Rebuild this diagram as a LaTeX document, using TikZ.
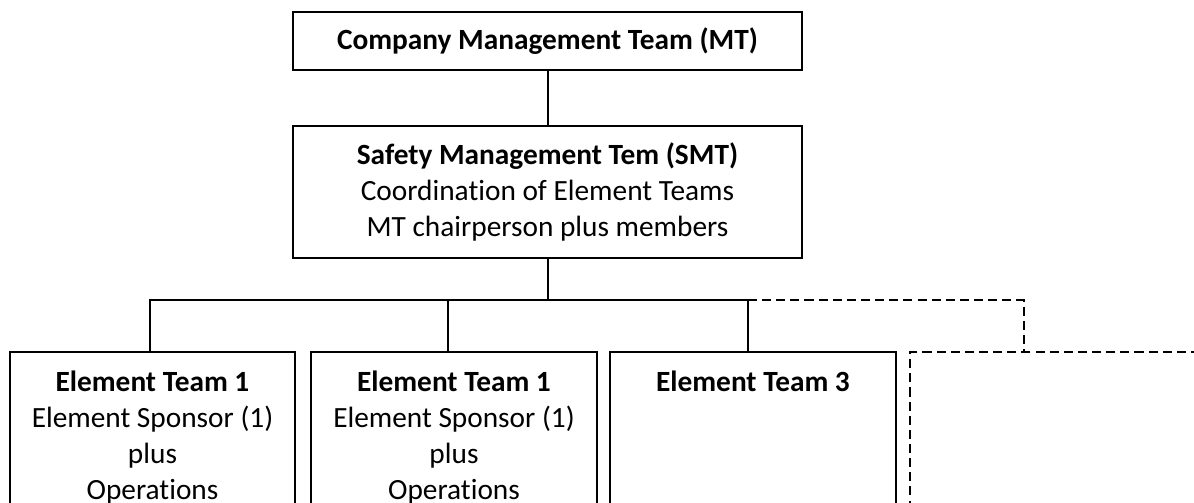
\documentclass[tikz,border=0pt]{standalone}
\usepackage{fontspec}
\setmainfont{Carlito}[Ligatures=NoCommon]
\begin{document}
\begin{tikzpicture}[x=0.375pt,y=-0.375pt,
  every node/.style={font=\fontsize{11pt}{13.5pt}\selectfont},
  box/.style={draw, line width=0.75pt, inner sep=0pt},
  ebox/.style={box, minimum width=106.9pt, minimum height=75pt, anchor=north},
  dbox/.style={ebox, dash pattern=on 3.4pt off 1.9pt},
  etext/.style={inner sep=0pt, align=center, anchor=north},
  link/.style={line width=0.75pt},
  dlink/.style={line width=0.75pt, dash pattern=on 3.4pt off 1.9pt}]
\useasboundingbox (0,0) rectangle (1194,502);
\clip (0,0) rectangle (1194,502);
\node[box, minimum width=190.9pt, minimum height=21.75pt] (mt) at (547.5,41) {\textbf{Company Management Team (MT)}};
\node[box, minimum width=190.9pt, minimum height=49.5pt, align=center] (smt) at (547.5,192)
  {\textbf{Safety Management Tem (SMT)}\\Coordination of Element Teams\\MT chairperson plus members};
\node[ebox] (e1) at (152.5,351) {};
\node[ebox] (e2) at (454,351) {};
\node[ebox] (e3) at (753,351) {};
\node[dbox] (e4) at (1053,351) {};
\node[etext] (t1) at (152.5,370) {\textbf{Element Team 1}\\Element Sponsor (1)\\plus\\Operations};
\node[etext] (t2) at (454,370) {\textbf{Element Team 1}\\Element Sponsor (1)\\plus\\Operations};
\node[etext] (t3) at (753,370) {\textbf{Element Team 3}};
\coordinate (bus) at (547.5,300);
\coordinate (c1) at ([xshift=-0.9pt]e1.north);
\coordinate (c2) at ([xshift=-2.25pt]e2.north);
\coordinate (c3) at ([xshift=-1.9pt]e3.north);
\coordinate (c4) at ([xshift=-10.9pt]e4.north);
\draw[link] (mt.south) -- (smt.north);
\draw[link] (smt.south) -- (bus);
\draw[link] (c1) -- (c1 |- bus) -- (c3 |- bus) -- (c3);
\draw[link] (c2 |- bus) -- (c2);
\draw[dlink] (c3 |- bus) -- (c4 |- bus) -- (c4);
\end{tikzpicture}
\end{document}
